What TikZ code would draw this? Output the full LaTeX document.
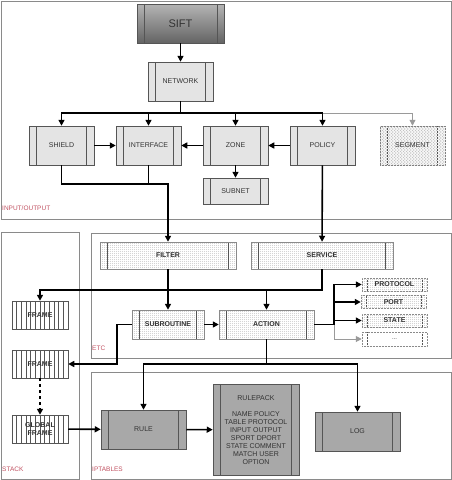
\documentclass[tikz,border=0pt]{standalone}
\usepackage{fontspec}
\setmainfont{Liberation Sans}
\usetikzlibrary{arrows.meta, patterns, calc}
\definecolor{boxline}{HTML}{555555}
\definecolor{framegray}{HTML}{8A8A8A}
\definecolor{lightfill}{HTML}{E4E4E4}
\definecolor{darkfill}{HTML}{A8A8A8}
\definecolor{textgray}{HTML}{333333}
\definecolor{arrowgray}{HTML}{9A9A9A}
\definecolor{labelred}{HTML}{C05060}
\pgfdeclarepatternformonly{finedots}{\pgfpointorigin}{\pgfpoint{2pt}{2pt}}{\pgfpoint{2pt}{2pt}}{%
  \pgfpathcircle{\pgfpoint{1pt}{1pt}}{0.5pt}\pgfusepath{fill}}

\begin{document}
\begin{tikzpicture}[
    x=1pt, y=-1pt,
    font=\fontsize{7}{8}\selectfont,
    every node/.style={align=center},
    inner lines/.style={path picture={
        \draw[draw=boxline, line width=0.5pt]
            ([xshift=#1]path picture bounding box.north west) -- ([xshift=#1]path picture bounding box.south west)
            ([xshift=-#1]path picture bounding box.north east) -- ([xshift=-#1]path picture bounding box.south east);
    }},
    inner lines/.default=7.5pt,
    region/.style={draw=framegray, line width=0.9pt, rectangle},
    regionlabel/.style={anchor=west, inner sep=0pt, text=labelred, font=\fontsize{6.5}{7}\selectfont},
    lightbox/.style={draw=boxline, line width=0.5pt, fill=lightfill, text=textgray,
        minimum width=65pt, minimum height=39pt, inner lines},
    darkbox/.style={draw=boxline, line width=0.5pt, fill=darkfill, text=textgray,
        minimum width=85pt, minimum height=39pt, inner lines},
    dotbox/.style={draw=framegray, line width=0.5pt, preaction={fill=white}, pattern=finedots,
        pattern color=gray!95, font=\fontsize{7}{8}\selectfont\bfseries, text=textgray,
        minimum height=27pt, inner lines},
    smallbox/.style={dotbox, densely dotted, minimum width=65pt, minimum height=13pt,
        inner sep=0pt, inner lines=5pt},
    stackframe/.style={draw=boxline, line width=0.5pt, fill=white,
        minimum width=56pt, minimum height=28pt, inner sep=1pt,
        font=\fontsize{7}{8}\selectfont\bfseries, text=textgray,
        path picture={
            \foreach \i in {1,...,11}
                \draw[boxline, line width=0.5pt]
                    ($(path picture bounding box.north west)!\i/12!(path picture bounding box.north east)$) --
                    ($(path picture bounding box.south west)!\i/12!(path picture bounding box.south east)$);
        }},
    arrow/.style={-{Triangle[length=6pt, width=6pt]}, line width=1.6pt},
    grayarrow/.style={arrow, draw=arrowgray, line width=1pt, -{Triangle[length=6pt, width=6pt, fill=arrowgray]}},
    line/.style={line width=1.6pt}
]
\useasboundingbox (0,0) rectangle (452,480);

% regions
\node[region, minimum width=450pt, minimum height=218pt] (io)    at (226,110)   {};
\node[region, minimum width=78pt,  minimum height=247pt] (stack) at (40,355.5)  {};
\node[region, minimum width=360pt, minimum height=125pt] (etc)   at (271,295.5) {};
\node[region, minimum width=360pt, minimum height=107pt] (ipt)   at (271,425.5) {};
\node[regionlabel] at (2,208)  {INPUT/OUTPUT};
\node[regionlabel] at (92,348) {ETC};
\node[regionlabel] at (2,469)  {STACK};
\node[regionlabel] at (92,469) {IPTABLES};

% input/output
\node[draw=boxline, line width=0.6pt, top color={rgb,255:red,180;green,180;blue,180},
      bottom color={rgb,255:red,100;green,100;blue,100}, minimum width=87pt, minimum height=39pt,
      inner lines=7pt, font=\fontsize{11}{12}\selectfont, text=textgray] (sift) at (180.5,23.5) {SIFT};
\node[lightbox] (network)   at (180.5,81.5)  {NETWORK};
\node[lightbox] (shield)    at (61.5,145.5)  {SHIELD};
\node[lightbox] (interface) at (148.5,145.5) {INTERFACE};
\node[lightbox] (zone)      at (235.5,145.5) {ZONE};
\node[lightbox] (policy)    at (322.5,145.5) {POLICY};
\node[lightbox, draw=gray, densely dotted, fill=white,
      preaction={fill=white}, preaction={pattern=north east lines, pattern color=gray!80},
      pattern=north west lines, pattern color=gray!80] (segment) at (412.5,145.5) {SEGMENT};
\node[lightbox, minimum height=26pt] (subnet) at (235.5,191) {SUBNET};

% etc
\node[dotbox, minimum width=136pt] (filter)     at (168,255.5)   {FILTER};
\node[dotbox, minimum width=142pt] (service)    at (322,255.5)   {SERVICE};
\node[dotbox, minimum width=72pt, minimum height=29pt] (subroutine) at (168,324.5) {SUBROUTINE};
\node[dotbox, minimum width=95pt, minimum height=29pt] (action)     at (266.5,324.5) {ACTION};
\node[smallbox, draw=framegray] (protocol) at (394.5,284.5) {PROTOCOL};
\node[smallbox, draw=framegray] (port)     at (393.5,302)   {PORT};
\node[smallbox, draw=framegray] (state)    at (394.5,320.5) {STATE};
\node[smallbox, draw=framegray, pattern=none, fill=white, minimum height=14pt, font=\fontsize{6}{7}\selectfont] (more) at (394.5,339) {...};

% stack
\node[stackframe] (frameA) at (40,315) {FRAME};
\node[stackframe] (frameB) at (40,364) {FRAME};
\node[stackframe] (globalframe) at (40,429) {GLOBAL\\FRAME};

% iptables
\node[darkbox] (rule) at (143.5,429.5) {RULE};
\node[darkbox, minimum width=86pt, minimum height=91pt, anchor=north] (rulepack) at (256,384)
     {RULEPACK\\[8pt]NAME POLICY\\TABLE PROTOCOL\\INPUT OUTPUT\\SPORT DPORT\\STATE COMMENT\\MATCH USER\\OPTION};
\node[darkbox] (log) at (357.5,431.5) {LOG};

% junction points
\coordinate (bus)    at (0,113);
\coordinate (join)   at (168,184);
\coordinate (split)  at (0,290);
\coordinate (fan)    at (334,0);
\coordinate (split2) at (0,364);

% connectors
\draw[arrow] (sift) -- (network);
\foreach \n in {shield, interface, zone, policy}
    \draw[arrow] (network.south) -- (network.south |- bus) -| (\n.north);
\draw[grayarrow] (policy.north |- bus) -| (segment.north);
\draw[arrow] (shield) -- (interface);
\draw[arrow] (zone) -- (interface);
\draw[arrow] (policy) -- (zone);
\draw[arrow] (zone) -- (subnet);
\draw[arrow] (shield.south) |- (join) -- (filter.north);
\draw[line] (interface.south) -- (interface.south |- join);
\draw[arrow] (policy) -- (service);

\draw[arrow] (service.south) |- (frameA.north |- split) -- (frameA.north);
\draw[arrow] (action.north |- split) -- (action.north);
\draw[arrow] (filter) -- (subroutine);
\draw[arrow] (subroutine) -- (action);
\draw[grayarrow] (action.east -| fan) |- (more.west);
\draw[line] (action.east) -- (action.east -| fan);
\foreach \n in {protocol, port, state}
    \draw[arrow] (action.east -| fan) |- (\n.west);
\draw[arrow] (subroutine.west) -- ++(-15,0) |- (frameB.east);

\draw[arrow] (action.south) -- (action.south |- split2) -| (rule.north);
\draw[arrow] (action.south |- split2) -| (log.north);
\draw[arrow, dashed] (frameB) -- (globalframe);
\draw[arrow] (globalframe) -- (rule);
\draw[arrow] (rule) -- (rulepack);

\end{tikzpicture}
\end{document}
